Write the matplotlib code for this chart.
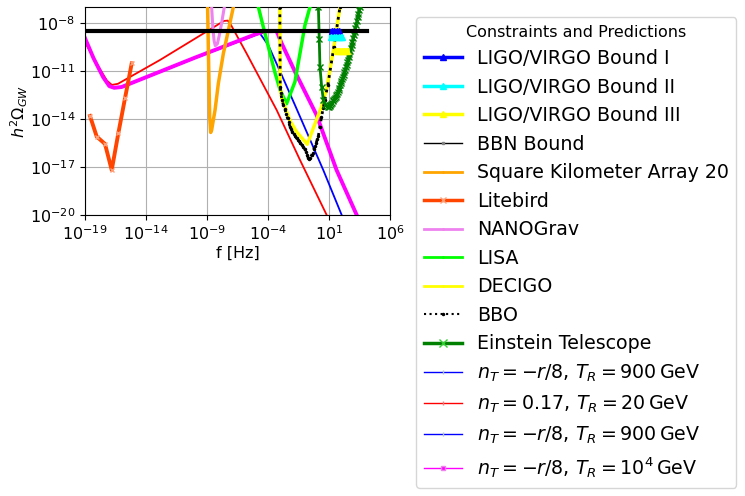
import numpy as np
import matplotlib
matplotlib.use("Agg")
import matplotlib.pyplot as plt
from matplotlib.lines import Line2D

# all values are log10(f / Hz) and log10(h^2 Omega_GW)
bbn_f = [-20.0, 4.09]
bbn_o = [-8.47, -8.47]

ligo1_f = [1.25, 1.45, 1.65, 1.85]
ligo1_o = [-8.52, -8.52, -8.52, -8.52]
ligo2_f = [1.2, 1.4, 1.6, 1.8, 2.0, 2.1]
ligo2_o = [-8.85, -8.85, -8.85, -8.85, -8.85, -8.85]
ligo3_f = [1.65, 1.85, 2.05, 2.25, 2.45]
ligo3_o = [-9.75, -9.75, -9.75, -9.75, -9.75]

ska_f = [-8.95, -8.86, -8.78, -8.70, -8.62, -8.34, -8.07, -7.66, -7.25, -6.84]
ska_o = [-7.0, -10.74, -13.86, -14.84, -14.69, -13.44, -11.78, -9.91, -8.46, -7.0]

litebird_f = [-18.59, -18.04, -17.36, -16.81, -16.27, -15.72, -15.17]
litebird_o = [-13.81, -15.10, -15.56, -17.19, -14.90, -12.70, -10.52]

nanograv_f = [-8.62, -8.52, -8.42, -8.32, -8.15, -8.0, -7.8, -7.58]
nanograv_o = [-7.0, -8.3, -9.1, -9.42, -9.3, -8.8, -8.0, -7.0]

lisa_f = [-4.79, -4.4, -3.9, -3.43, -3.0, -2.48, -1.79, -0.97, -0.56]
lisa_o = [-7.0, -8.2, -9.7, -11.1, -12.2, -13.05, -11.67, -8.13, -7.0]

decigo_f = [-3.03, -3.0, -2.85, -2.61, -2.2, -1.66, -1.1, -0.78, -0.3, 0.39, 0.81, 1.4, 1.9]
decigo_o = [-7.0, -12.0, -12.8, -13.23, -14.1, -14.8, -15.3, -15.58, -14.6, -13.23, -12.1, -9.5, -7.0]

bbo_f = [-3.03, -3.0, -2.95, -2.85, -2.75, -2.61, -2.5, -2.4, -2.3, -2.2, -2.1, -2.0,
         -1.9, -1.8, -1.66, -1.55, -1.45, -1.35, -1.25, -1.1, -1.0, -0.9, -0.8, -0.7,
         -0.62, -0.52, -0.42, -0.35, -0.25, -0.15, -0.05, 0.05, 0.13, 0.25, 0.38, 0.53,
         0.65, 0.9, 1.4, 1.9]
bbo_o = [-7.0, -12.0, -12.4, -12.8, -13.1, -13.4, -13.7, -13.95, -14.2, -14.48, -14.65, -14.8,
         -14.93, -15.05, -15.2, -15.3, -15.4, -15.5, -15.6, -15.73, -15.85, -16.05, -16.25, -16.42,
         -16.5, -16.42, -16.25, -16.1, -15.9, -15.7, -15.5, -15.25, -15.05, -14.5, -13.9, -13.3,
         -12.8, -11.9, -9.5, -7.0]

et_f = [0.13, 0.2, 0.26, 0.4, 0.54, 0.7, 0.81,
        0.94, 1.00, 1.06, 1.12, 1.18, 1.24, 1.30, 1.36, 1.42, 1.48, 1.54, 1.60, 1.66,
        1.72, 1.78, 1.84, 1.90, 1.96, 2.02, 2.08, 2.14, 2.20, 2.26, 2.32, 2.38, 2.44,
        2.50, 2.56, 2.62, 2.68, 2.74, 2.80, 2.86, 2.92, 2.98, 3.04, 3.10, 3.16, 3.22,
        3.28, 3.34, 3.40, 3.46, 3.52]
et_o = [-7.0, -9.0, -10.74, -12.0, -12.82, -13.1, -13.2,
        -13.25, -13.22, -13.18, -13.12, -13.05, -12.98, -12.90, -12.83, -12.75, -12.67,
        -12.60, -12.53, -12.44, -12.32, -12.20, -12.05, -11.90, -11.77, -11.64, -11.50,
        -11.37, -11.23, -11.08, -10.93, -10.78, -10.62, -10.46, -10.29, -10.11, -9.93,
        -9.74, -9.55, -9.36, -9.16, -8.96, -8.75, -8.54, -8.32, -8.10, -7.87, -7.64,
        -7.42, -7.20, -7.0]

# n_T = -r/8, T_R = 900 GeV
blue_f = [-19.0, -18.3, -17.5, -17.0, -16.6, -16.0, -10.0, -4.66, -3.98, -2.88, -1.79, 0.53, 2.04]
blue_o = [-8.98, -10.2, -11.4, -11.95, -12.05, -12.02, -10.2, -8.65, -9.38, -11.25, -13.13, -17.19, -20.0]
# n_T = 0.17, T_R = 20 GeV
red_f = [-19.0, -18.0, -17.2, -16.8, -16.3, -12.85, -9.0, -8.0, -7.6, -7.3, -7.05, -5.75, -3.29, -1.38, 0.81]
red_o = [-9.2, -10.6, -11.6, -11.87, -11.8, -10.31, -8.52, -8.05, -7.87, -7.85, -8.1, -9.91, -13.44, -16.56, -20.0]
# n_T = -r/8, T_R = 1e4 GeV
mag_f = [-19.0, -18.3, -17.5, -17.0, -16.6, -16.0, -10.0, -5.07, -4.25, -3.3, -2.88, -1.79, -0.7, -0.02, 1.62, 3.3]
mag_o = [-8.95, -10.2, -11.4, -11.95, -12.05, -12.0, -10.17, -8.72, -8.52, -8.5, -9.27, -11.04, -12.71, -13.75, -17.19, -20.05]


def p(f, o):
    return 10.0 ** np.array(f), 10.0 ** np.array(o)


fig = plt.figure(figsize=(7.45, 4.96), dpi=100)
ax = fig.add_axes([85 / 745, 1 - 215 / 496, 305 / 745, 208 / 496])

ax.plot(*p(red_f, red_o), color="red", lw=1.3, zorder=2)
ax.plot(*p(blue_f, blue_o), color="blue", lw=1.3, zorder=2)
ax.plot(*p(mag_f, mag_o), color="magenta", lw=2.8, zorder=2)

ax.plot(*p(ska_f, ska_o), color="orange", lw=2.5, zorder=3)
ax.plot(*p(litebird_f, litebird_o), color="orangered", lw=2.8, marker="x", ms=3,
        mec="lightsalmon", zorder=3)
ax.plot(*p(nanograv_f, nanograv_o), color="violet", lw=2.2, zorder=3)
ax.plot(*p(lisa_f, lisa_o), color="lime", lw=2.5, zorder=3)
ax.plot(*p(decigo_f, decigo_o), color="yellow", lw=2.5, zorder=3)
ax.plot(*p(bbo_f, bbo_o), color="black", lw=2.0, ls=":", marker=".", ms=3, zorder=4)
ax.plot(*p(et_f, et_o), color="green", lw=2.0, marker="x", ms=5, mew=1.0, zorder=4)
ax.plot(*p(bbn_f, bbn_o), color="black", lw=3, zorder=4)

ax.plot(*p(ligo1_f, ligo1_o), color="blue", lw=3, marker="^", ms=5, zorder=5)
ax.plot(*p(ligo2_f, ligo2_o), color="cyan", lw=3, marker="^", ms=5, zorder=5)
ax.plot(*p(ligo3_f, ligo3_o), color="yellow", lw=4, marker="^", ms=5, zorder=5)

ax.set_xscale("log")
ax.set_yscale("log")
ax.set_xlim(1e-19, 1e6)
ax.set_ylim(1e-20, 1e-7)
ax.set_xticks([1e-19, 1e-14, 1e-9, 1e-4, 1e1, 1e6])
ax.set_yticks([1e-20, 1e-17, 1e-14, 1e-11, 1e-8])
ax.minorticks_off()
ax.tick_params(labelsize=11.5)
ax.grid(True)
ax.set_xlabel("f [Hz]", fontsize=11.5, labelpad=2)
ax.set_ylabel(r"$h^2\Omega_{GW}$", fontsize=11.5, labelpad=0)

handles = [
    Line2D([], [], color="blue", lw=2.5, marker="^", ms=5),
    Line2D([], [], color="cyan", lw=2.5, marker="^", ms=5),
    Line2D([], [], color="yellow", lw=2.5, marker="^", ms=5),
    Line2D([], [], color="black", lw=1, marker="s", ms=2, mfc="gray", mec="gray"),
    Line2D([], [], color="orange", lw=2, marker=".", ms=2),
    Line2D([], [], color="orangered", lw=2.5, marker="x", ms=4, mec="lightsalmon"),
    Line2D([], [], color="violet", lw=2, marker=".", ms=2),
    Line2D([], [], color="lime", lw=2, marker=".", ms=2),
    Line2D([], [], color="yellow", lw=2, marker=".", ms=2),
    Line2D([], [], color="black", lw=1.5, ls=":", marker=".", ms=3),
    Line2D([], [], color="green", lw=2.5, marker="x", ms=6, mec="limegreen"),
    Line2D([], [], color="blue", lw=1, marker="|", ms=3, mec="lightsteelblue"),
    Line2D([], [], color="red", lw=1, marker="|", ms=3, mec="lightcoral"),
    Line2D([], [], color="blue", lw=1, marker="|", ms=3, mec="lightsteelblue"),
    Line2D([], [], color="magenta", lw=1, marker="s", ms=3, mec="violet"),
]
labels = [
    "LIGO/VIRGO Bound I",
    "LIGO/VIRGO Bound II",
    "LIGO/VIRGO Bound III",
    "BBN Bound",
    "Square Kilometer Array 20",
    "Litebird",
    "NANOGrav",
    "LISA",
    "DECIGO",
    "BBO",
    "Einstein Telescope",
    r"$n_T=-r/8,\,T_R=900\,\mathrm{GeV}$",
    r"$n_T=0.17,\,T_R=20\,\mathrm{GeV}$",
    r"$n_T=-r/8,\,T_R=900\,\mathrm{GeV}$",
    r"$n_T=-r/8,\,T_R=10^4\,\mathrm{GeV}$",
]
fig.legend(handles, labels, loc="upper left", bbox_to_anchor=(416 / 745, 1 - 17 / 496),
           borderaxespad=0, fontsize=13.7, labelspacing=0.5, handlelength=2.0,
           handletextpad=0.8, title="Constraints and Predictions",
           title_fontsize=11.5)

fig.savefig("out.png", dpi=100)
